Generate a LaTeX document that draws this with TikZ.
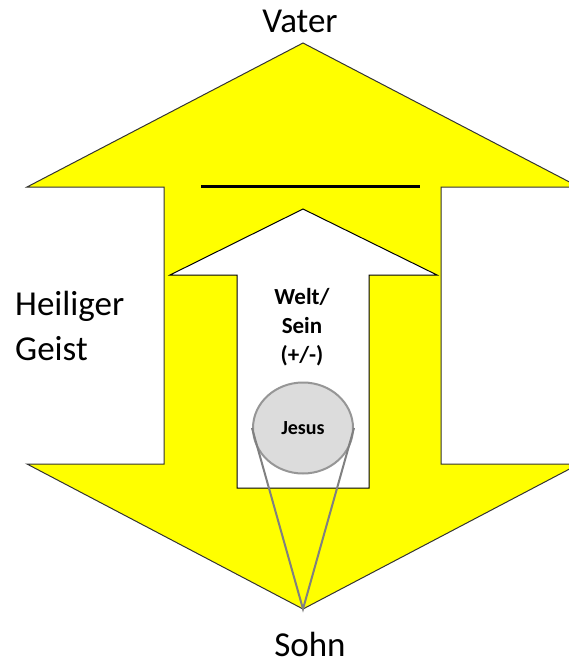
\documentclass[tikz,border=0pt]{standalone}
\usepackage{fontspec}
\setmainfont{Carlito}
\usetikzlibrary{shapes.geometric}
\definecolor{pfeil_gelb}{RGB}{255,255,0}
\definecolor{kreis_grau}{RGB}{220,220,220}
\definecolor{rand_grau}{RGB}{150,150,150}
\definecolor{linie_grau}{RGB}{128,128,128}

\begin{document}
\begin{tikzpicture}[x=1pt, y=-1pt, font=\fontsize{35}{45}\selectfont]
        \useasboundingbox (0,0) rectangle (569,664);
        \clip (0,0) rectangle (569,664);
        % grosser Doppelpfeil
        \filldraw[fill=pfeil_gelb, draw=black!80, line width=1pt]
          (303,43) -- (579,187) -- (441,187) -- (441,464) -- (579,464) -- (303,609)
          -- (27,464) -- (164,464) -- (164,187) -- (27,187) -- cycle;
        \coordinate (spitze) at (303,609);
        \draw[black, line width=3pt] (201,186) -- (420,186);
        % innerer Pfeil
        \filldraw[fill=white, draw=black, line width=1pt]
          (303,209) -- (437,275) -- (369,275) -- (369,488) -- (237,488)
          -- (237,275) -- (170,275) -- cycle;
        \node[ellipse, fill=kreis_grau, draw=rand_grau, line width=2pt,
          minimum width=100pt, minimum height=91pt, inner sep=0pt,
          font=\fontsize{20}{24}\selectfont\bfseries] (jesus) at (303,428) {Jesus};
        \draw[linie_grau, line width=2pt] (jesus.west) -- (spitze) -- (jesus.east);
        \node[anchor=base, inner sep=0pt] (vater) at (300,32) {Vater};
        \node[anchor=base west, inner sep=0pt, align=left] (geist) at (15,360) {Heiliger\\Geist};
        \node[anchor=base, inner sep=0pt] (sohn) at (310,656) {Sohn};
        \node[anchor=base, inner sep=0pt, align=center,
          font=\fontsize{23}{29}\selectfont\bfseries] (welt) at (302,362) {Welt/\\Sein\\(+/-)};
\end{tikzpicture}
\end{document}
